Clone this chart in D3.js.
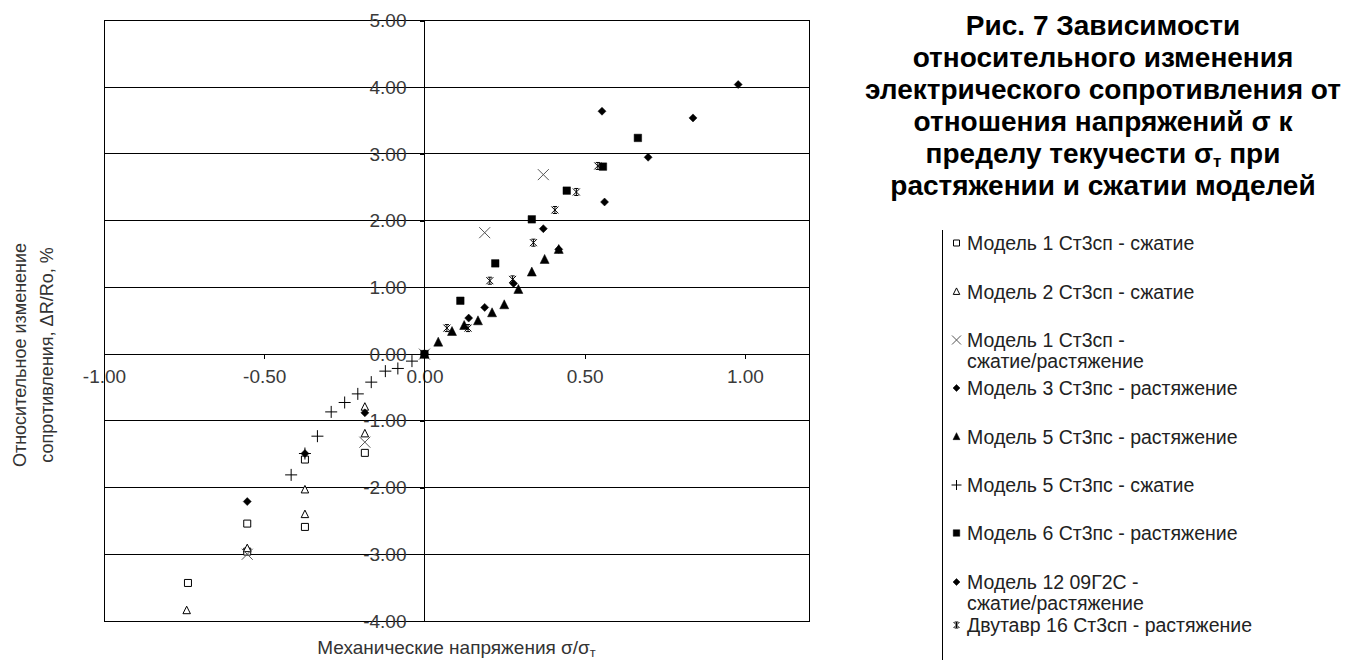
<!DOCTYPE html>
<html><head><meta charset="utf-8">
<script src="https://cdn.jsdelivr.net/npm/d3@7/dist/d3.min.js"></script>
<style>
html,body{margin:0;padding:0;background:#fff;}
svg{display:block;font-family:"Liberation Sans",Arial,sans-serif;}
</style></head>
<body>
<svg id="chart" width="1359" height="660"></svg>
<script>
// ---- data ----
const xTicks = [-1, -0.5, 0, 0.5, 1];
const yTicks = [-4, -3, -2, -1, 0, 1, 2, 3, 4, 5];
const xTickLabels = ["-1.00", "-0.50", "0.00", "0.50", "1.00"];
const yTickLabels = ["-4.00", "-3.00", "-2.00", "-1.00", "0.00", "1.00", "2.00", "3.00", "4.00", "5.00"];

const seriesNames = [
  ["Модель 1 Ст3сп - сжатие"],
  ["Модель 2 Ст3сп - сжатие"],
  ["Модель 1 Ст3сп -", "сжатие/растяжение"],
  ["Модель 3 Ст3пс - растяжение"],
  ["Модель 5 Ст3пс - растяжение"],
  ["Модель 5 Ст3пс - сжатие"],
  ["Модель 6 Ст3пс - растяжение"],
  ["Модель 12 09Г2С -", "сжатие/растяжение"],
  ["Двутавр 16 Ст3сп - растяжение"]
];
const seriesMarkers = ["squareOpen", "triangleOpen", "x", "diamond", "triangle", "plus", "square", "diamondSmall", "star"];

const model1CompX = [-0.738, -0.553, -0.553, -0.373, -0.373, -0.186];
const model1CompY = [-3.43, -2.96, -2.54, -2.59, -1.58, -1.48];
const model2CompX = [-0.742, -0.553, -0.373, -0.373, -0.186, -0.186];
const model2CompY = [-3.84, -2.91, -2.40, -2.03, -1.19, -0.79];
const model1CtX = [-0.553, -0.186, 0, 0.188, 0.371];
const model1CtY = [-3.00, -1.32, 0, 1.82, 2.69];
const model3TenX = [0.138, 0.278, 0.419, 0.562, 0.698, 0.838, 0.979];
const model3TenY = [0.54, 1.06, 1.57, 2.28, 2.95, 3.54, 4.04];
const model5TenX = [0, 0.043, 0.086, 0.124, 0.167, 0.211, 0.249, 0.293, 0.335, 0.375, 0.419];
const model5TenY = [0, 0.18, 0.34, 0.43, 0.50, 0.62, 0.74, 0.97, 1.23, 1.42, 1.57];
const model5CompX = [-0.039, -0.083, -0.122, -0.166, -0.208, -0.249, -0.291, -0.334, -0.373, -0.416];
const model5CompY = [-0.105, -0.215, -0.255, -0.42, -0.596, -0.725, -0.866, -1.23, -1.49, -1.81];
const model6TenX = [0, 0.112, 0.221, 0.335, 0.444, 0.557, 0.666];
const model6TenY = [0, 0.80, 1.36, 2.02, 2.45, 2.81, 3.24];
const model12X = [-0.553, -0.373, -0.186, 0, 0.188, 0.371, 0.554];
const model12Y = [-2.21, -1.49, -0.88, 0, 0.70, 1.88, 3.64];
const beamX = [0, 0.070, 0.136, 0.204, 0.275, 0.340, 0.407, 0.474, 0.541];
const beamY = [0, 0.39, 0.39, 1.10, 1.12, 1.67, 2.16, 2.43, 2.82];

const seriesXs = [model1CompX, model2CompX, model1CtX, model3TenX, model5TenX, model5CompX, model6TenX, model12X, beamX];
const seriesYs = [model1CompY, model2CompY, model1CtY, model3TenY, model5TenY, model5CompY, model6TenY, model12Y, beamY];

const titleLines = ["Рис. 7 Зависимости", "относительного изменения", "электрического сопротивления от", "отношения напряжений σ к", "пределу текучести σ|т| при", "растяжении и сжатии моделей"];

// ---- layout ----
const svg = d3.select("#chart");
const plot = {left: 104, right: 809, top: 20.5, bottom: 621};
const x = d3.scaleLinear().domain([-1, 1.2]).range([plot.left, plot.right]);
const y = d3.scaleLinear().domain([-4, 5]).range([plot.bottom, plot.top]);

// gridlines
svg.append("g").selectAll("line").data(yTicks).join("line")
  .attr("x1", plot.left).attr("x2", plot.right)
  .attr("y1", d => y(d)).attr("y2", d => y(d))
  .attr("stroke", "#000").attr("stroke-width", 1).attr("shape-rendering", "crispEdges");
svg.append("rect").attr("x", plot.left).attr("y", plot.top)
  .attr("width", plot.right - plot.left).attr("height", plot.bottom - plot.top)
  .attr("fill", "none").attr("stroke", "#000").attr("stroke-width", 1).attr("shape-rendering", "crispEdges");

// axes crossing at zero
const xAxis = d3.axisBottom(x).tickValues(xTicks).tickSize(5).tickFormat((d, i) => xTickLabels[i]).tickPadding(10);
const gx = svg.append("g").attr("transform", `translate(0,${y(0)})`).call(xAxis);
gx.select(".domain").attr("d", `M${plot.left},0H${plot.right}`).attr("stroke", "#000").attr("shape-rendering", "crispEdges");
gx.selectAll(".tick line").attr("stroke", "#000").attr("shape-rendering", "crispEdges");
gx.selectAll(".tick text").attr("font-size", 19).attr("fill", "#3a3a3a").attr("font-family", "Liberation Sans, Arial, sans-serif");

const yAxis = d3.axisLeft(y).tickValues(yTicks).tickSize(4).tickFormat((d, i) => yTickLabels[i]).tickPadding(14);
const gy = svg.append("g").attr("transform", `translate(${x(0)},0)`).call(yAxis);
gy.select(".domain").attr("d", `M0,${plot.top}V${plot.bottom}`).attr("stroke", "#000").attr("shape-rendering", "crispEdges");
gy.selectAll(".tick line").attr("stroke", "#000").attr("shape-rendering", "crispEdges");
gy.selectAll(".tick text").attr("font-size", 19).attr("fill", "#3a3a3a").attr("font-family", "Liberation Sans, Arial, sans-serif");

// markers
function markerPath(type, s) {
  const h = s / 2;
  switch (type) {
    case "squareOpen": case "square":
      return `M${-h},${-h}H${h}V${h}H${-h}Z`;
    case "triangleOpen": case "triangle":
      return `M0,${-h * 1.1}L${h},${h * 0.9}L${-h},${h * 0.9}Z`;
    case "diamond": case "diamondSmall":
      return `M0,${-h}L${h},0L0,${h}L${-h},0Z`;
    case "x":
      return `M${-h},${-h}L${h},${h}M${h},${-h}L${-h},${h}`;
    case "plus":
      return `M${-h},0H${h}M0,${-h}V${h}`;
    case "star":
      return `M${-h},${-h}L${h},${h}M${h},${-h}L${-h},${h}M0,${-h}V${h}M${-h * 0.6},${-h}H${h * 0.6}M${-h * 0.6},${h}H${h * 0.6}`;
  }
}
const markerSize = {squareOpen: 7, triangleOpen: 7.5, x: 11, diamond: 8, diamondSmall: 8, triangle: 9, plus: 12, square: 7.5, star: 7};
const legendSize = {squareOpen: 6, triangleOpen: 6.5, x: 9, diamond: 7, diamondSmall: 7, triangle: 7, plus: 10, square: 6.5, star: 6};
function styleMarker(sel, type) {
  const open = type === "squareOpen" || type === "triangleOpen";
  const line = type === "x" || type === "plus" || type === "star";
  sel.attr("fill", open ? "#fff" : line ? "none" : "#000")
     .attr("stroke", type === "x" ? "#555" : "#000")
     .attr("stroke-width", line ? 1 : (open ? 1 : 0.5));
}

seriesXs.forEach((xs, si) => {
  const type = seriesMarkers[si];
  const pts = xs.map((v, i) => [v, seriesYs[si][i]]);
  const g = svg.append("g");
  g.selectAll("path").data(pts).join("path")
    .attr("d", markerPath(type, markerSize[type]))
    .attr("transform", d => `translate(${x(d[0])},${y(d[1])})`)
    .call(styleMarker, type);
});

// axis titles
svg.append("text").attr("x", (plot.left + plot.right) / 2).attr("y", 654)
  .attr("text-anchor", "middle").attr("font-size", 19).attr("fill", "#333")
  .call(t => {
    t.append("tspan").text("Механические напряжения σ/σ");
    t.append("tspan").attr("font-size", 13).attr("dy", 3).text("т");
  });
const yt = svg.append("text").attr("transform", `translate(26,355) rotate(-90)`)
  .attr("text-anchor", "middle").attr("font-size", 18).attr("fill", "#333");
yt.append("tspan").attr("x", 0).attr("y", 0).text("Относительное изменение");
yt.append("tspan").attr("x", 0).attr("y", 27).text("сопротивления, ΔR/Ro, %");

// title
const tt = svg.append("text").attr("text-anchor", "middle").attr("font-size", 28)
  .attr("font-weight", "bold").attr("fill", "#000");
titleLines.forEach((line, i) => {
  const parts = line.split("|");
  tt.append("tspan").attr("x", 1103).attr("y", 35 + i * 32).text(parts[0]);
  if (parts.length > 1) {
    tt.append("tspan").attr("font-size", 17).attr("dy", 4).text(parts[1]);
    tt.append("tspan").attr("dy", -4).text(parts[2]);
  }
});

// legend
const legend = svg.append("g");
legend.append("line").attr("x1", 942.5).attr("x2", 942.5).attr("y1", 230).attr("y2", 660)
  .attr("stroke", "#000").attr("stroke-width", 1).attr("shape-rendering", "crispEdges");
const legendRows = [243, 291.5, 340, 388, 436.5, 485, 533, 582, 625];
seriesNames.forEach((lines, i) => {
  const cy = legendRows[i];
  const type = seriesMarkers[i];
  legend.append("path").attr("d", markerPath(type, legendSize[type]))
    .attr("transform", `translate(956.5,${cy})`).call(styleMarker, type);
  const t = legend.append("text").attr("font-size", 19.5).attr("fill", "#222");
  lines.forEach((l, j) => {
    t.append("tspan").attr("x", 967).attr("y", cy + 7 + j * 21).text(l);
  });
});
</script>
</body></html>
